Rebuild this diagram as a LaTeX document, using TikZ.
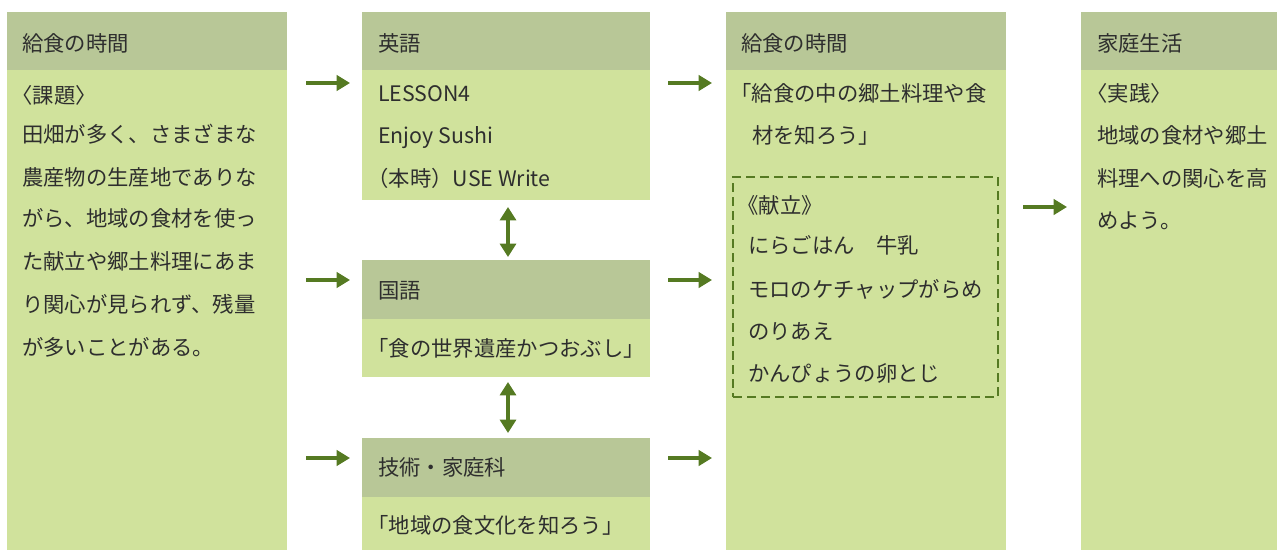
\documentclass[tikz,border=0pt]{standalone}
\usepackage{fontspec}
\setmainfont{Noto Sans CJK JP}
\usetikzlibrary{arrows.meta}
\definecolor{hdr}{HTML}{B8C797}
\definecolor{bdy}{HTML}{D0E29C}
\definecolor{arr}{HTML}{557A22}
\definecolor{txt}{HTML}{2E2E2E}
\newcommand\opn{\hspace*{-0.5em}}
\begin{document}
\begin{tikzpicture}[x=0.75pt,y=-0.75pt,
  panel/.style={rectangle,inner sep=0pt,outer sep=0pt,anchor=north west,draw=none},
  hbox/.style={panel,fill=hdr},
  bbox/.style={panel,fill=bdy},
  tx/.style={anchor=west,inner sep=0pt,text=txt,font=\fontsize{16}{16}\selectfont,text height=14pt,text depth=2pt},
  ar/.style={draw=arr,line width=2.3pt,-{Triangle[length=10pt,width=11.5pt]}},
  dar/.style={draw=arr,line width=2.3pt,{Triangle[length=10pt,width=12pt]}-{Triangle[length=10pt,width=12pt]}},
  menu/.style={panel,draw=arr,line width=2pt,dash pattern=on 6.5pt off 4pt}]
\useasboundingbox (0,0) rectangle (1277,550);
% column 1
\node[hbox,minimum width=280*0.75pt,minimum height=58*0.75pt] (h1) at (7,12) {};
\node[bbox,minimum width=280*0.75pt,minimum height=480*0.75pt] (b1) at (7,70) {};
\node[tx] (t1h) at (22,43) {給食の時間};
\node[tx] (t1a) at (22,95) {\opn〈課題〉};
\node[tx] (t1b) at (22,134) {田畑が多く、さまざまな};
\node[tx] (t1c) at (22,177) {農産物の生産地でありな};
\node[tx] (t1d) at (22,218) {がら、地域の食材を使っ};
\node[tx] (t1e) at (22,261) {た献立や郷土料理にあま};
\node[tx] (t1f) at (22,304) {り関心が見られず、残量};
\node[tx] (t1g) at (22,347) {が多いことがある。};
% column 2
\node[hbox,minimum width=288*0.75pt,minimum height=58*0.75pt] (h2a) at (362,12) {};
\node[bbox,minimum width=288*0.75pt,minimum height=130*0.75pt] (b2a) at (362,70) {};
\node[tx] (t2h) at (378,43) {英語};
\node[tx] (t2a) at (378,93) {LESSON4};
\node[tx] (t2b) at (378,135) {Enjoy Sushi};
\node[tx] (t2c) at (378,178) {\opn（本時）USE Write};
\node[hbox,minimum width=288*0.75pt,minimum height=59*0.75pt] (h2b) at (362,260) {};
\node[bbox,minimum width=288*0.75pt,minimum height=58*0.75pt] (b2b) at (362,319) {};
\node[tx] (t2i) at (378,290) {国語};
\node[tx] (t2j) at (378,348) {\opn「食の世界遺産かつおぶし」};
\node[hbox,minimum width=288*0.75pt,minimum height=59*0.75pt] (h2c) at (362,438) {};
\node[bbox,minimum width=288*0.75pt,minimum height=53*0.75pt] (b2c) at (362,497) {};
\node[tx] (t2k) at (378,467) {技術・家庭科};
\node[tx] (t2l) at (378,525) {\opn「地域の食文化を知ろう」};
% column 3
\node[hbox,minimum width=280*0.75pt,minimum height=58*0.75pt] (h3) at (726,12) {};
\node[bbox,minimum width=280*0.75pt,minimum height=480*0.75pt] (b3) at (726,70) {};
\node[tx] (t3h) at (741,43) {給食の時間};
\node[tx] (t3a) at (741,93) {\opn「給食の中の郷土料理や食};
\node[tx] (t3b) at (752,135) {材を知ろう」};
\node[menu,minimum width=265*0.75pt,minimum height=220*0.75pt] (m3) at (733,177) {};
\node[tx] (t3c) at (748,205) {\opn《献立》};
\node[tx] (t3d) at (748,245) {にらごはん\hspace{1em}牛乳};
\node[tx] (t3e) at (748,289) {モロのケチャップがらめ};
\node[tx] (t3f) at (748,331) {のりあえ};
\node[tx] (t3g) at (748,373) {かんぴょうの卵とじ};
% column 4
\node[hbox,minimum width=196*0.75pt,minimum height=58*0.75pt] (h4) at (1081,12) {};
\node[bbox,minimum width=196*0.75pt,minimum height=480*0.75pt] (b4) at (1081,70) {};
\node[tx] (t4h) at (1097,43) {家庭生活};
\node[tx] (t4a) at (1097,93) {\opn〈実践〉};
\node[tx] (t4b) at (1097,135) {地域の食材や郷土};
\node[tx] (t4c) at (1097,178) {料理への関心を高};
\node[tx] (t4d) at (1097,220) {めよう。};
% arrow end points
\coordinate (a1s) at (306,83);  \coordinate (a1e) at (350,83);
\coordinate (a2s) at (306,280); \coordinate (a2e) at (350,280);
\coordinate (a3s) at (306,458); \coordinate (a3e) at (350,458);
\coordinate (a4s) at (668,83);  \coordinate (a4e) at (712,83);
\coordinate (a5s) at (668,280); \coordinate (a5e) at (712,280);
\coordinate (a6s) at (668,458); \coordinate (a6e) at (712,458);
\coordinate (a7s) at (1023,207); \coordinate (a7e) at (1067,207);
\coordinate (d1s) at (508,207); \coordinate (d1e) at (508,257);
\coordinate (d2s) at (508,382); \coordinate (d2e) at (508,433);
\draw[ar] (a1s) -- (a1e);
\draw[ar] (a2s) -- (a2e);
\draw[ar] (a3s) -- (a3e);
\draw[ar] (a4s) -- (a4e);
\draw[ar] (a5s) -- (a5e);
\draw[ar] (a6s) -- (a6e);
\draw[ar] (a7s) -- (a7e);
\draw[dar] (d1s) -- (d1e);
\draw[dar] (d2s) -- (d2e);
\end{tikzpicture}
\end{document}
